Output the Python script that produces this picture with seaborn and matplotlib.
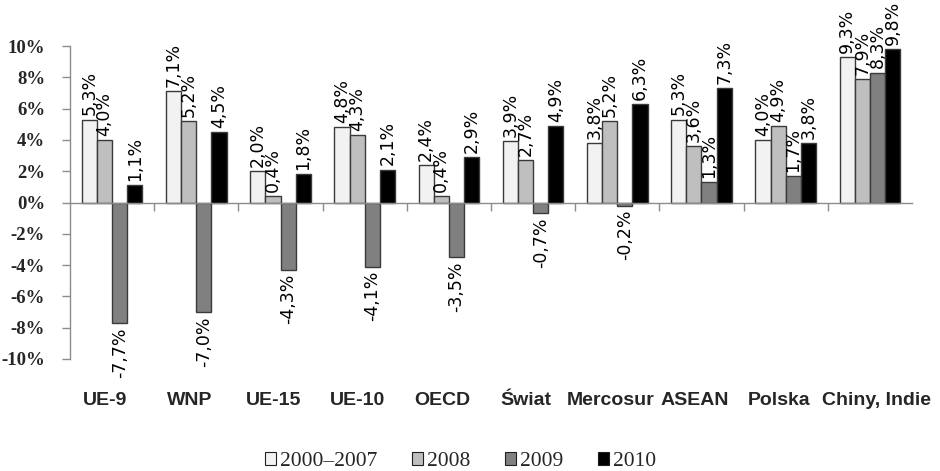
import matplotlib
matplotlib.use("Agg")
import matplotlib.pyplot as plt
from matplotlib.patches import Patch
from matplotlib.ticker import FixedLocator, FuncFormatter
from matplotlib.transforms import ScaledTranslation
import numpy as np
import pandas as pd
import seaborn as sns

# Real GDP growth by region
categories = ["UE-9", "WNP", "UE-15", "UE-10", "OECD", "Świat",
              "Mercosur", "ASEAN", "Polska", "Chiny, Indie"]
series = ["2000–2007", "2008", "2009", "2010"]
avg_2000_2007 = [5.3, 7.1, 2.0, 4.8, 2.4, 3.9, 3.8, 5.3, 4.0, 9.3]
y2008 = [4.0, 5.2, 0.4, 4.3, 0.4, 2.7, 5.2, 3.6, 4.9, 7.9]
y2009 = [-7.7, -7.0, -4.3, -4.1, -3.5, -0.7, -0.2, 1.3, 1.7, 8.3]
y2010 = [1.1, 4.5, 1.8, 2.1, 2.9, 4.9, 6.3, 7.3, 3.8, 9.8]
y_ticks = [-10, -8, -6, -4, -2, 0, 2, 4, 6, 8, 10]

colors = ["#F2F2F2", "#BFBFBF", "#808080", "#000000"]
edge = "#3A3A3A"
axis_gray = "#8C8C8C"

values = [avg_2000_2007, y2008, y2009, y2010]
df = pd.DataFrame({
    "region": np.tile(categories, len(series)),
    "period": np.repeat(series, len(categories)),
    "growth": np.concatenate(values),
})

sns.set_theme(style="white")
plt.rcParams["font.family"] = ["DejaVu Sans"]

fig = plt.figure(figsize=(9.4, 4.71), dpi=100)
ax = fig.add_axes([0.0745, 0.2378, 0.8957, 0.6645])

sns.barplot(data=df, x="region", y="growth", hue="period",
            order=categories, hue_order=series, palette=colors,
            saturation=1, width=0.72, gap=0, edgecolor=edge, linewidth=1,
            errorbar=None, legend=False, ax=ax)

ax.set_xlim(-0.5, len(categories) - 0.5)
ax.set_ylim(y_ticks[0], y_ticks[-1])

# Value labels, rotated, with a decimal comma
for cont, vals in zip(ax.containers, values):
    labels = [f"{v:.1f}".replace(".", ",") + "%" for v in vals]
    ax.bar_label(cont, labels=labels, rotation=90, padding=3,
                 fontsize=12.5, color="black", clip_on=False)

# Y axis
ax.set_yticks(y_ticks)
ax.yaxis.set_major_formatter(FuncFormatter(lambda v, p: f"{v:.0f}%"))
ax.tick_params(axis="y", direction="out", length=6, width=1,
               color=axis_gray, pad=12, left=True)
for lab in ax.get_yticklabels():
    lab.set_fontfamily("Liberation Serif")
    lab.set_fontweight("bold")
    lab.set_fontsize(13.5)
ax.spines["left"].set_color(axis_gray)
ax.spines["left"].set_linewidth(1)
ax.spines["top"].set_visible(False)
ax.spines["right"].set_visible(False)

# Zero line with group separators
ax.spines["bottom"].set_position(("data", 0))
ax.spines["bottom"].set_color(axis_gray)
ax.spines["bottom"].set_linewidth(1)
ax.xaxis.set_major_locator(FixedLocator([]))
ax.xaxis.set_minor_locator(FixedLocator(np.arange(len(categories) - 1) + 0.5))
ax.tick_params(axis="x", which="minor", direction="out", length=6, width=1,
               color=axis_gray, bottom=True, labelbottom=False)
ax.set_xlabel("")
ax.set_ylabel("")

# Category names below the plot area
sec = ax.secondary_xaxis("bottom")
sec.set_xticks(range(len(categories)), labels=categories)
sec.tick_params(axis="x", length=0, pad=24)
sec.spines["bottom"].set_visible(False)
xlabels = sec.get_xticklabels()
for i, lab in enumerate(xlabels):
    lab.set_fontfamily("Liberation Sans")
    lab.set_fontweight("bold")
    lab.set_fontsize(14)
    shift = 7 if i == len(xlabels) - 1 else -7
    lab.set_transform(lab.get_transform()
                      + ScaledTranslation(shift / 100, 0, fig.dpi_scale_trans))

# Legend
handles = [Patch(facecolor=c, edgecolor="#202020", linewidth=0.8) for c in colors]
fig.legend(handles, series, loc="center", bbox_to_anchor=(0.49, 0.02),
           ncol=4, frameon=False, handlelength=0.5, handleheight=0.5,
           handletextpad=0.2, columnspacing=1.6,
           prop={"family": "Liberation Serif", "size": 15.5})

fig.savefig("out.png", dpi=100)
